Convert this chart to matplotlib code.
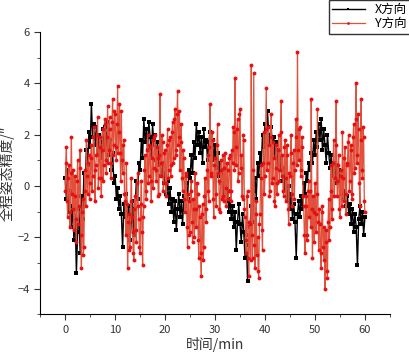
import numpy as np
import matplotlib
matplotlib.use("Agg")
import matplotlib.pyplot as plt
from matplotlib.ticker import MultipleLocator

plt.rcParams['font.family'] = ['Noto Sans CJK SC', 'DejaVu Sans']

# X direction (black), one sample every 0.25 min
x_step = 0.25
x_dir = [
    0.3, -0.5, 0.6, -1.0,   -0.2, -1.6, -0.8, -2.1,   -1.2, -3.4, -1.8, -0.9,
    -2.6, -0.4, -1.3, 0.5,   0.2, 1.4, 0.8, 2.1,   1.5, 3.2, 1.9, 2.4,
    1.6, 2.3, 1.2, 2.0,   1.7, 1.1, 2.2, 1.4,   2.3, 1.6, 2.5, 1.2,
    1.8, 0.6, 1.3, 0.1,   0.4, -0.5, -0.1, -0.9,   -0.4, -1.1, -2.4, -0.7,
    -1.2, -0.3, -1.6, -0.8,   -2.1, -1.4, -0.6, -1.9,   -0.9, 0.2, -0.5, 0.9,
    0.6, 1.8, 1.1, 2.6,   1.7, 2.2, 1.4, 2.5,   1.9, 1.2, 2.4, 1.6,
    2.0, 1.0, 1.7, 0.8,   1.3, 0.4, 0.9, 0.1,   0.5, -0.3, 0.2, -0.7,
    -0.1, -1.0, -0.5, -1.4,   -0.6, -1.7, -0.9, -0.3,   -1.2, -0.6, -1.5, -0.4,
    -0.8, 0.1, -0.5, 0.6,   0.3, 1.2, 0.5, 1.7,   1.1, 2.4, 1.6, 2.1,
    1.3, 1.9, 0.9, 2.2,   1.5, 1.8, 1.0, 1.7,   2.1, 1.2, 1.8, 1.0,
    1.6, 0.7, 1.3, 0.4,   0.9, 0.1, 0.6, -0.3,   0.2, -0.6, -0.2, -1.0,
    -0.5, -1.3, -0.8, -1.6,   -1.0, -2.5, -1.4, -0.7,   -1.5, -2.2, -1.1, -1.8,
    -2.8, -1.9, -3.7, -2.3,   -1.6, -0.8, -1.4, -0.2,   0.3, -0.5, 0.9, 0.4,
    1.3, 0.8, 2.0, 1.5,   2.4, 1.7, 2.9, 2.0,   1.6, 2.3, 1.3, 1.9,
    1.1, 1.7, 0.8, 1.4,   0.6, 1.1, 0.2, 0.7,   -0.1, 0.4, -0.6, 0.0,
    -0.9, -0.3, -1.3, -0.7,   -1.4, -2.8, -1.1, -0.6,   -1.2, -0.4, -0.9, 0.1,
    -0.3, 0.5, 0.2, 0.9,   0.6, 1.3, 0.9, 1.8,   1.2, 2.1, 1.5, 2.4,
    1.8, 2.6, 1.4, 2.2,   1.6, 0.9, 2.0, 1.3,   0.7, 1.2, 0.4, 0.9,
    0.3, 0.8, 0.1, 0.6,   0.2, -0.3, 0.4, -0.5,   -0.2, -0.8, -0.4, -1.1,
    -0.7, -1.5, -0.9, -1.8,   -1.1, -1.6, -3.1, -1.3,   -0.8, -1.5, -1.0, -1.9,
    -1.2,
]

# Y direction (red), one sample every 0.125 min
y_step = 0.125
y_dir = [
    -0.2, 0.9, 1.5, -0.6, -1.2, 0.3, 0.8, -1.0,
    -1.6, 0.5, 1.9, -0.3, -0.9, 0.6, -1.7, -0.4,
    0.4, -1.3, -2.2, 0.2, 1.0, -1.5, -0.8, 0.7,
    1.4, -1.9, -3.2, -1.0, -0.5, -2.7, -2.4, -0.2,
    0.6, -0.8, 1.8, 0.4, -0.3, 0.9, 1.2, -0.5,
    0.1, 1.1, 1.6, -0.2, 0.4, 1.9, 2.3, 0.6,
    -0.6, 0.8, 1.2, 2.0, 2.7, -0.1, 0.3, 1.5,
    1.9, 0.3, -0.4, 1.4, 2.2, 0.2, 0.8, 2.4,
    2.6, 1.0, 0.5, 1.9, 3.1, 0.9, 1.4, 2.7,
    2.2, 0.3, 0.9, 2.5, 3.4, 1.2, 1.6, 2.9,
    2.8, 1.5, 1.0, 2.4, 3.9, 1.3, 2.1, 3.2,
    1.3, 0.2, 2.9, 1.0, 0.5, 1.6, 1.8, -0.3,
    -0.6, -1.9, 0.9, -0.7, -3.2, -1.4, -1.1, -2.5,
    -2.4, -0.6, 0.3, -1.2, -1.8, -2.6, -2.9, -0.9,
    -0.4, -1.7, -2.2, 0.1, 0.5, -0.8, -1.3, -2.4,
    -2.6, -0.7, 0.2, -1.8, -3.1, -1.2, -0.8, 0.6,
    1.2, -0.2, -0.5, 1.4, 2.0, 0.1, 0.4, 1.6,
    1.5, 0.2, -0.6, 1.1, 1.8, -0.1, 0.7, 1.9,
    2.0, 0.6, 0.2, 1.5, 1.1, -0.4, -0.3, 1.2,
    3.6, 0.4, 0.9, 2.0, 1.7, -0.2, 0.1, 1.3,
    1.4, 0.1, -0.4, 1.6, 2.2, 0.3, 0.6, 1.8,
    1.9, 0.4, 0.8, 2.1, 2.5, 0.9, 1.1, 2.6,
    3.0, 1.2, 1.4, 2.8, 3.7, 1.6, 1.9, 2.9,
    0.6, 1.7, 2.4, 0.3, -0.2, 1.4, 1.1, -0.5,
    -1.0, 0.5, 0.4, -1.6, -2.4, -0.3, -0.6, -1.9,
    -1.8, -0.2, 0.2, -1.4, -2.2, -0.5, -0.9, -2.0,
    0.5, -0.9, -1.6, 0.1, -0.3, -2.1, -2.8, -0.8,
    -1.2, -2.6, -3.5, -1.1, -0.7, -2.9, -2.4, -0.4,
    0.3, -0.9, -1.4, 0.6, 1.2, -0.2, -0.6, 1.5,
    3.2, 0.4, 0.5, 2.1, 1.8, -0.5, -1.2, 0.8,
    1.1, -0.3, -0.8, 1.6, 2.4, 0.5, 0.2, -0.9,
    -1.0, 0.6, 1.0, -0.5, -0.4, 1.2, 0.7, -0.6,
    1.3, -0.1, -0.8, 0.9, 0.6, -0.5, -0.2, 1.1,
    1.2, -0.2, -0.6, 1.4, 0.9, 2.3, 2.1, 0.6,
    4.2, 1.5, 0.8, 2.2, 2.6, 0.2, 0.5, 2.8,
    3.0, 0.7, 1.2, -0.4, -0.5, 2.0, 1.8, -0.9,
    -1.2, -2.1, -2.6, -0.4, -0.2, -2.8, -3.5, -1.4,
    -1.5, -2.9, 4.7, -1.9, -2.8, 0.6, 4.4, -2.3,
    -3.2, -1.1, -0.6, -2.7, -2.0, -3.3, -3.6, -1.5,
    -1.1, 0.3, 0.8, -1.7, -2.5, 0.9, 2.1, -0.3,
    0.4, 2.2, 3.8, 0.6, 0.9, 2.3, 1.6, -0.4,
    -0.2, 1.9, 2.8, 0.1, 0.3, 1.7, 1.1, -0.6,
    -0.8, 0.7, 1.6, -0.3, 0.1, 1.4, 2.0, 0.2,
    0.6, 2.1, 3.3, 0.4, 1.2, -0.2, -0.4, 1.5,
    1.8, 0.3, -0.6, 1.6, 1.2, -0.9, -1.5, 0.5,
    0.4, 1.3, 2.0, -0.3, -0.8, 0.9, 1.4, -0.5,
    0.6, 1.9, 2.6, 0.8, 5.2, 1.4, 1.0, 2.2,
    2.3, 0.4, 0.6, 1.9, 1.5, -0.4, -0.8, -1.9,
    -2.6, -0.8, -0.4, -2.1, -1.9, -0.2, 0.2, -1.2,
    -0.2, -1.6, 3.4, -0.9, -2.8, -0.4, -1.0, -2.2,
    0.1, -1.1, -1.8, -0.3, 3.0, -1.4, -2.5, -0.9,
    -1.5, -2.6, -3.2, -1.0, -0.8, -2.4, -2.9, -1.6,
    -4.0, -2.2, -1.7, -3.3, -3.6, -1.4, -0.5, -2.1,
    -1.6, -0.2, 0.8, -1.3, -0.9, 0.9, 1.8, -0.4,
    0.3, 1.6, 3.3, 0.2, -0.4, 0.8, 1.2, -0.9,
    -1.2, 0.4, 0.6, -0.8, 2.1, 0.3, -0.6, 1.1,
    1.5, -0.3, -1.1, 0.9, 0.8, 1.7, 2.0, -0.2,
    0.2, 1.4, 1.6, -0.5, -0.3, 1.9, 2.4, 0.5,
    0.7, 2.6, 4.0, 0.9, 1.2, 2.8, 2.2, 0.1,
    -0.8, 1.8, 3.4, 0.6, 0.3, 2.3, 1.9, -0.6,
    -1.0,
]

t_x = np.arange(len(x_dir)) * x_step
t_y = np.arange(len(y_dir)) * y_step

fig = plt.figure(figsize=(4.1, 3.55), dpi=100)
ax = fig.add_axes([0.098, 0.115, 0.853, 0.795])

ax.plot(t_x, x_dir, color='black', lw=1.0, marker='s', ms=2.4, mew=0,
        label='X方向')
ax.plot(t_y, y_dir, color='#e2503c', lw=0.9, marker='o', ms=2.8,
        mfc='#e31212', mec='#e31212', mew=0, label='Y方向')

ax.set_xlim(-5, 65)
ax.set_ylim(-5, 6)
ax.xaxis.set_major_locator(MultipleLocator(10))
ax.xaxis.set_minor_locator(MultipleLocator(5))
ax.yaxis.set_major_locator(MultipleLocator(2))
ax.yaxis.set_minor_locator(MultipleLocator(1))
ax.tick_params(which='both', direction='out', labelsize=8, colors='#333333')
ax.tick_params(which='major', length=4)
ax.tick_params(which='minor', length=2.5)

for s in ['top', 'right']:
    ax.spines[s].set_visible(False)

ax.set_xlabel('时间/min', fontsize=10, color='#333333', labelpad=2)
ax.set_ylabel('全程姿态精度/″', fontsize=10, color='#333333', labelpad=2)

leg = fig.legend(loc='upper right', bbox_to_anchor=(1.0, 1.0), fontsize=9,
                 frameon=True, fancybox=False, edgecolor='black',
                 handlelength=2.6, borderpad=0.25, labelspacing=0.1,
                 borderaxespad=0.0, markerscale=0.7)
leg.get_frame().set_linewidth(1.0)

fig.savefig('out.png', dpi=100)
